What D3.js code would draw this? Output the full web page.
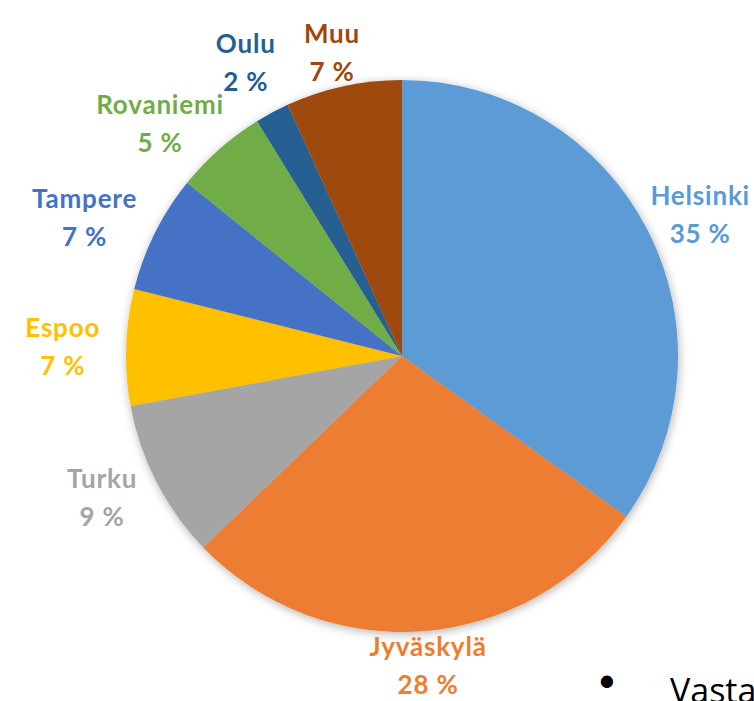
<!DOCTYPE html>
<html>
<head>
<meta charset="utf-8">
<script src="https://cdn.jsdelivr.net/npm/d3@7"></script>
<style>
  body { margin: 0; background: #fff; overflow: hidden; }
</style>
</head>
<body>
<script>
const cities = ["Helsinki", "Jyväskylä", "Turku", "Espoo", "Tampere", "Rovaniemi", "Oulu", "Muu"]
const shares = [34.9, 27.9, 9.3, 6.8, 6.9, 5.4, 2.0, 6.8]
const colors = ["#5b9bd5", "#ed7d31", "#a5a5a5", "#ffc000", "#4472c4", "#70ad47", "#255e91", "#9e480e"]

const width = 754
const height = 701
const cx = 402
const cy = 356
const radius = 276
const gapX = 26
const gapY = 6
const fontSize = 26
const lineStep = 38

const svg = d3.select("body")
    .append("svg")
    .attr("width", width)
    .attr("height", height)

// soft shadow behind the pie
svg.append("defs")
    .append("filter")
    .attr("id", "shadow")
    .attr("x", "-20%").attr("y", "-20%")
    .attr("width", "140%").attr("height", "140%")
    .append("feDropShadow")
    .attr("dx", 1).attr("dy", 2)
    .attr("stdDeviation", 5)
    .attr("flood-color", "#000")
    .attr("flood-opacity", 0.3)

const data = cities.map((name, i) => ({ name, value: shares[i], color: colors[i] }))
const total = d3.sum(shares)

const pie = d3.pie()
    .sort(null)
    .value((d) => d.value)

const arc = d3.arc().innerRadius(0).outerRadius(radius)

const g = svg.append("g").attr("transform", `translate(${cx},${cy})`)

g.append("g")
    .attr("filter", "url(#shadow)")
    .selectAll("path")
    .data(pie(data))
    .join("path")
    .attr("d", arc)
    .attr("fill", (d) => d.data.color)

// labels: name + percent, placed just outside the pie (best fit style)
const labels = g.selectAll(".label")
    .data(pie(data))
    .join("text")
    .attr("class", "label")
    .attr("text-anchor", "middle")
    .attr("font-family", "Lato, 'Open Sans', sans-serif")
    .attr("font-weight", "bold")
    .attr("font-size", `${fontSize}px`)
    .attr("letter-spacing", "0.8px")
    .attr("fill", (d) => d.data.color)

labels.append("tspan")
    .attr("x", 0)
    .attr("y", 0)
    .text((d) => d.data.name)

labels.append("tspan")
    .attr("x", 0)
    .attr("y", lineStep)
    .text((d) => `${Math.round(d.data.value / total * 100)} %`)

const capH = fontSize * 0.72
const boxH = lineStep + capH
const placed = []

labels.each(function (d) {
    const bb = this.getBBox()
    const w = bb.width
    const a = (d.startAngle + d.endAngle) / 2
    const s = Math.sin(a)
    const c = -Math.cos(a)
    let px = s * (radius + gapX + w / 2)
    let py = c * (radius + gapY + boxH / 2)
    // keep inside the picture
    if (cx + px + w / 2 > width - 4) px = width - 4 - w / 2 - cx
    const box = () => ({ x0: px - w / 2, x1: px + w / 2, y0: py - boxH / 2, y1: py + boxH / 2 })
    const hits = (b) => placed.some((p) => b.x0 < p.x1 + 2 && b.x1 > p.x0 - 2 && b.y0 < p.y1 + 4 && b.y1 > p.y0 - 4)
    const dir = c < 0 ? -1 : 1
    let guard = 0
    while (hits(box()) && guard++ < 200) py += dir
    placed.push(box())
    const baseline = py - boxH / 2 + capH
    d3.select(this).attr("transform", `translate(${px},${baseline})`)
})

// bit of slide text poking in at bottom right
svg.append("text")
    .attr("x", 607)
    .attr("y", 698)
    .attr("text-anchor", "middle")
    .attr("font-family", "'DejaVu Sans', sans-serif")
    .attr("font-size", "42px")
    .attr("fill", "#000")
    .text("•")

svg.append("text")
    .attr("x", 670)
    .attr("y", 703)
    .attr("font-family", "'Open Sans', sans-serif")
    .attr("font-size", "34px")
    .attr("fill", "#000")
    .text("Vasta")
</script>
</body>
</html>
